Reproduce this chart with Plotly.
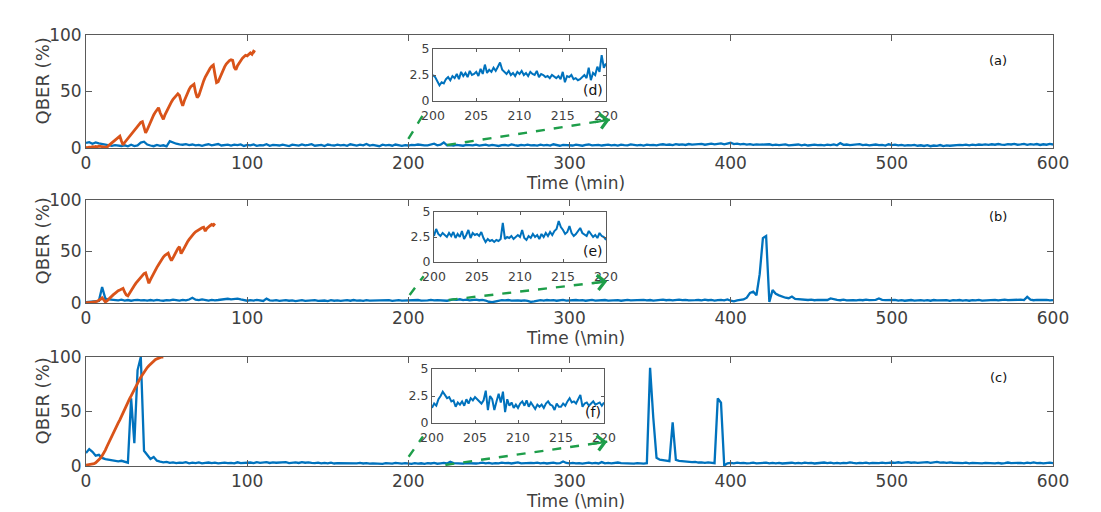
import plotly.graph_objects as go

W, H = 1101, 512

# ---------------- data ----------------
# blue QBER traces, one sample every 2 min from 0 to 600
time_main = list(range(0, 601, 2))

qber_a = [
    4.5, 5.2, 3.8, 4.9, 4.1, 3.6, 2.8, 2.2, 1.9, 2.6,
    2.1, 1.8, 2.4, 1.5, 2.9, 1.7, 2.3, 4.8, 5.6, 3.1,
    2.2, 1.6, 2.7, 1.9, 2.4, 1.4, 6.1, 4.7, 3.8, 3.2,
    2.9, 3.4, 2.6, 3.1, 2.3, 2.8, 1.9, 2.7, 3.3, 2.4,
    2.8, 3.5, 2.2, 2.6, 3.0, 2.1, 2.9, 2.5, 3.2, 1.8,
    2.7, 2.3, 3.1, 1.9, 2.6, 2.4, 3.3, 2.0, 2.8, 2.5,
    2.2, 3.0, 2.4, 1.7, 2.9, 2.6, 2.1, 3.2, 2.3, 2.7,
    3.4, 2.0, 2.6, 2.8, 1.8, 3.1, 2.5, 2.2, 3.0, 2.4,
    2.7, 1.9, 3.3, 2.5, 2.1, 2.9, 2.4, 3.6, 2.2, 2.8,
    2.5, 1.6, 2.9, 2.3, 2.7, 2.0, 3.1, 2.4, 1.9, 2.6,
    2.2, 2.7, 2.5, 3.1, 2.6, 2.4, 2.3, 3.0, 3.8, 2.4,
    2.9, 4.9, 2.3, 2.6, 2.1, 2.8, 2.4, 2.0, 2.7, 2.5,
    2.3, 2.9, 2.1, 2.6, 3.0, 2.2, 2.7, 2.4, 1.8, 2.6,
    2.8, 2.2, 3.2, 2.5, 2.0, 2.7, 2.4, 3.0, 2.3, 2.6,
    2.1, 2.9, 2.4, 2.7, 2.2, 3.3, 2.5, 2.0, 2.8, 2.4,
    2.6, 2.2, 2.9, 2.4, 2.0, 2.7, 3.1, 2.3, 2.5, 2.8,
    2.2, 2.6, 3.0, 2.4, 2.7, 2.1, 2.9, 2.5, 2.3, 3.2,
    2.6, 2.4, 2.8, 2.2, 3.0, 2.5, 2.7, 2.3, 2.9, 3.3,
    2.8, 3.1, 2.6, 3.4, 2.9, 3.2, 2.7, 3.5, 3.0, 3.3,
    3.1, 3.6, 2.9, 3.4, 3.8, 3.2, 3.5, 4.1, 3.3, 3.7,
    4.6, 3.4, 3.9, 3.2, 3.6, 3.0, 3.4, 2.8, 3.2, 2.9,
    3.1, 2.7, 3.3, 2.6, 3.0, 2.5, 2.9, 3.2, 2.4, 2.8,
    2.6, 3.1, 2.4, 2.9, 2.2, 2.7, 3.0, 2.5, 2.8, 2.3,
    2.9, 2.6, 3.2, 2.4, 4.3, 2.8, 3.1, 2.5, 2.9, 2.7,
    3.4, 2.6, 2.9, 2.3, 2.8, 3.1, 2.5, 2.7, 2.2, 3.3,
    2.6, 2.9, 2.4, 2.7, 2.1, 2.6, 2.3, 2.8, 2.0, 2.4,
    1.8, 2.5, 1.6, 2.2, 1.9, 2.6, 1.7, 2.3, 2.0, 2.4,
    2.2, 2.8, 2.5, 3.0, 2.4, 2.9, 2.6, 3.1, 2.7, 3.2,
    2.8, 3.3, 2.9, 3.5, 3.0, 2.7, 3.4, 3.1, 3.6, 2.9,
    3.2, 3.7, 2.8, 3.4, 3.0, 3.5, 2.7, 3.3, 2.9, 3.6,
    3.1,
]

qber_b = [
    0.8, 1.2, 1.9, 2.4, 2.1, 15.5, 4.2, 3.6, 3.1, 2.8,
    2.6, 3.2, 2.4, 2.9, 2.2, 2.7, 3.0, 2.5, 2.8, 2.3,
    2.9, 2.4, 3.1, 2.6, 2.2, 2.8, 2.5, 3.2, 2.7, 2.4,
    3.0, 2.6, 3.4, 5.1, 3.2, 2.8, 3.5, 2.9, 2.4, 3.1,
    2.6, 2.9, 3.3, 3.8, 4.1, 3.6, 3.9, 4.3, 3.5, 2.6,
    2.2, 2.8, 2.4, 3.1, 2.5, 2.0, 4.2, 2.6, 2.3, 2.7,
    2.1, 2.5, 2.8, 2.2, 2.6, 1.9, 2.4, 2.7, 2.0, 2.5,
    2.3, 2.8, 2.1, 2.6, 2.4, 1.8, 2.7, 2.2, 2.5, 2.0,
    2.4, 2.7, 2.2, 2.9, 2.3, 2.6, 2.1, 2.8, 2.4, 2.5,
    2.2, 2.6, 2.9, 2.3, 2.7, 2.1, 2.5, 2.8, 2.4, 2.6,
    2.7, 2.3, 2.6, 2.9, 2.4, 2.2, 2.6, 3.1, 2.5, 2.8,
    2.5, 2.9, 2.2, 2.7, 3.4, 3.0, 3.6, 2.8, 3.2, 2.6,
    2.9, 3.3, 2.7, 3.0, 2.4, 1.2, 0.8, 1.6, 2.4, 2.8,
    2.6, 2.9, 2.3, 2.7, 2.5, 2.2, 2.6, 2.0, 1.1, 1.5,
    2.3, 2.7, 2.4, 2.9, 2.5, 2.8, 2.2, 2.6, 3.0, 2.4,
    2.7, 2.3, 2.9, 2.5, 2.8, 2.2, 2.6, 3.0, 2.4, 2.7,
    2.5, 2.9, 2.3, 2.7, 2.4, 2.8, 2.2, 2.6, 3.1, 2.5,
    2.8, 2.4, 2.7, 3.0, 2.5, 2.9, 2.3, 2.7, 2.6, 3.2,
    2.7, 3.0, 2.5, 2.9, 3.3, 2.8, 3.1, 2.6, 3.0, 2.7,
    2.9, 2.5, 3.2, 2.7, 3.0, 2.4, 2.8, 3.1, 2.6, 3.4,
    2.2, 1.6, 2.5, 2.9, 3.4, 5.2, 9.8, 11.0, 7.5, 28.0,
    63.0, 65.0, 1.0, 12.5, 9.0, 7.4, 6.2, 5.1, 4.6, 6.3,
    4.0, 3.6, 3.2, 3.5, 2.9, 3.3, 2.7, 3.1, 2.8, 3.2,
    2.9, 4.5, 3.4, 3.0, 2.7, 3.2, 2.6, 3.0, 2.8, 2.5,
    3.1, 2.7, 3.3, 2.8, 2.6, 3.0, 4.4, 3.1, 2.7, 2.9,
    2.6, 3.0, 2.4, 2.8, 2.2, 2.7, 2.9, 2.3, 2.6, 2.8,
    2.4, 2.7, 2.2, 2.9, 2.5, 2.6, 2.3, 2.8, 2.1, 2.7,
    2.5, 2.9, 2.4, 2.7, 2.2, 2.8, 2.6, 3.0, 2.4, 2.7,
    2.9, 2.6, 3.1, 2.5, 2.8, 3.2, 2.7, 3.0, 2.6, 2.9,
    3.3, 2.8, 5.9, 3.2, 2.7, 3.0, 2.6, 2.9, 3.1, 2.5,
    2.8,
]

qber_c = [
    12.0, 15.5, 13.0, 9.5, 10.2, 7.4, 6.3, 5.8, 5.1, 4.6,
    4.3, 4.8, 3.6, 3.1, 62.0, 21.0, 88.0, 100.0, 14.0, 9.8,
    6.5, 8.2, 4.9, 4.1, 3.4, 3.8, 2.9, 3.3, 2.6, 3.1,
    2.8, 3.5, 2.5, 3.0, 2.7, 3.3, 2.4, 2.9, 3.2, 2.6,
    3.0, 2.5, 2.8, 3.1, 2.6, 2.9, 2.4, 3.4, 2.7, 3.0,
    2.8, 3.2, 2.6, 3.5, 2.9, 3.1, 3.6, 2.8, 3.3, 3.0,
    3.2, 2.9, 3.5, 2.7, 3.1, 3.4, 2.8, 3.6, 3.0, 3.3,
    2.9, 2.6, 3.0, 2.4, 2.8, 2.5, 3.1, 2.3, 2.7, 2.6,
    2.4, 2.9, 2.2, 2.7, 2.5, 2.8, 2.3, 2.6, 2.1, 2.5,
    2.3, 2.7, 2.0, 2.6, 2.4, 2.2, 2.8, 2.5, 2.1, 2.6,
    2.4, 1.9, 2.7, 2.2, 2.5, 2.0, 2.6, 2.3, 2.8, 2.1,
    2.5, 2.9, 2.3, 3.8, 2.6, 2.4, 2.8, 2.2, 2.7, 2.5,
    2.9, 2.3, 2.6, 3.1, 2.4, 2.8, 2.2, 2.7, 2.5, 3.0,
    2.6, 2.9, 2.3, 2.8, 3.3, 2.5, 2.7, 2.4, 2.9, 2.6,
    3.1, 2.5, 2.8, 2.3, 2.7, 3.0, 2.4, 2.6, 4.2, 2.8,
    2.5, 2.9, 2.4, 2.7, 2.2, 2.6, 3.0, 2.5, 2.8, 2.3,
    3.6, 2.4, 2.8, 2.5, 2.9, 3.2, 2.7, 2.4, 2.6, 2.3,
    2.2, 2.7, 2.5, 2.1, 2.6, 90.0, 44.0, 7.5, 5.8, 5.2,
    4.9, 4.5, 40.0, 5.6, 4.8, 4.4, 4.1, 3.9, 3.5, 3.7,
    3.2, 3.4, 2.9, 3.3, 3.0, 2.6, 62.0, 58.0, 0.5, 2.4,
    2.8, 2.5, 3.0, 2.6, 2.9, 2.4, 2.7, 3.1, 2.5, 2.8,
    2.6, 3.0, 2.4, 2.8, 2.5, 2.9, 2.3, 2.7, 2.6, 3.0,
    2.4, 2.8, 2.5, 3.1, 2.6, 2.9, 2.3, 2.7, 2.5, 3.2,
    2.7, 3.0, 2.5, 2.8, 2.4, 2.9, 2.6, 3.3, 2.8, 2.5,
    2.9, 2.6, 3.0, 2.4, 2.8, 2.5, 2.7, 3.1, 2.6, 2.9,
    3.2, 2.8, 3.4, 2.9, 3.1, 3.6, 3.0, 3.3, 2.8, 3.2,
    3.0, 3.5, 2.9, 3.2, 3.7, 3.1, 3.4, 2.9, 3.3, 3.0,
    2.8, 3.2, 2.6, 3.0, 2.5, 2.9, 2.7, 3.1, 2.4, 2.8,
    2.6, 3.0, 2.5, 2.9, 2.3, 2.7, 3.2, 2.6, 2.8, 2.4,
    2.9, 2.5, 3.1, 2.7, 3.3, 2.6, 2.9, 2.4, 2.8, 3.0,
    2.6,
]

# orange QBER traces, one sample per minute
time_orange_a = list(range(0, 106))
orange_a = [
    0.5, 0.3, 0.8, 0.6, 1.2, 0.9, 1.4, 1.1, 1.6, 1.3,
    1.0, 0.7, 0.4, 0.6, 2.1, 3.4, 4.2, 5.8, 6.9, 8.2,
    9.1, 10.4, 6.2, 2.8, 4.9, 6.7, 8.3, 10.1, 11.8, 13.6,
    15.2, 17.4, 19.1, 20.8, 22.6, 23.3, 17.5, 13.4, 16.2, 19.8,
    23.1, 26.4, 29.2, 31.7, 34.1, 35.6, 31.2, 27.8, 25.3, 29.4,
    32.6, 35.9, 38.4, 40.8, 43.1, 45.2, 46.3, 47.9, 46.5, 41.2,
    37.4, 41.8, 45.6, 48.7, 51.9, 54.2, 55.8, 56.4, 49.1, 44.6,
    46.3, 51.2, 55.7, 59.4, 62.8, 65.9, 68.3, 70.6, 72.4, 73.5,
    65.2, 57.8, 58.6, 62.3, 66.1, 69.4, 71.8, 74.2, 75.9, 77.3,
    78.1, 77.6, 71.4, 69.2, 72.8, 75.3, 77.6, 79.4, 80.8, 82.1,
    81.6, 83.4, 84.2, 82.9, 85.6, 84.8,
]

time_orange_b = list(range(0, 81))
orange_b = [
    0.4, 0.2, 0.6, 0.5, 0.9, 0.8, 1.3, 1.7, 2.4, 3.6,
    5.1, 3.2, 1.0, 2.1, 3.8, 5.2, 6.7, 8.1, 9.4, 10.8,
    11.9, 12.6, 13.8, 14.2, 10.5, 7.8, 6.9, 9.8, 12.4, 14.6,
    16.9, 19.3, 21.2, 23.4, 25.8, 27.4, 28.6, 29.3, 24.1, 19.2,
    22.6, 25.9, 28.7, 31.8, 34.6, 37.2, 39.9, 42.1, 44.6, 46.3,
    47.8, 48.4, 44.2, 41.1, 43.9, 47.2, 50.4, 52.8, 54.6, 47.9,
    50.6, 53.9, 56.8, 59.4, 61.7, 63.9, 65.8, 67.6, 69.1, 70.2,
    71.4, 72.3, 73.1, 73.6, 69.8, 72.4, 74.2, 75.1, 76.3, 75.4,
    77.2,
]

time_orange_c = list(range(0, 49))
orange_c = [
    0.8, 1.1, 0.9, 1.6, 1.4, 2.2, 2.9, 4.1, 5.6, 7.3,
    9.4, 11.8, 14.6, 17.9, 21.2, 24.3, 27.1, 30.4, 33.2, 36.8,
    39.5, 42.3, 45.8, 48.9, 52.1, 55.4, 58.2, 61.6, 64.3, 67.5,
    70.2, 73.4, 76.1, 78.8, 81.5, 83.9, 86.2, 88.1, 90.3, 92.0,
    93.6, 95.1, 96.4, 97.5, 98.3, 99.1, 99.6, 100.0, 100.0,
]

# zoomed insets, 200-220 min every 0.25 min
time_zoom = [200 + 0.25 * i for i in range(81)]
zoom_d = [
    2.5, 2.3, 1.9, 1.5, 1.8, 1.7, 2.1, 2.3, 2.0, 2.4,
    2.2, 2.6, 2.1, 2.8, 2.4, 2.7, 2.3, 2.9, 2.5, 2.6,
    2.8, 2.4, 3.1, 2.6, 3.5, 2.7, 3.0, 2.8, 3.2, 2.9,
    3.3, 3.7, 3.0, 2.8, 2.6, 2.9, 2.5, 2.7, 2.4, 2.8,
    2.6, 2.9, 2.5, 2.7, 2.4, 2.8, 2.6, 2.5, 2.9, 2.3,
    2.6, 2.5, 2.3, 2.4, 2.2, 2.5, 2.3, 2.2, 2.4, 2.1,
    2.8, 1.8, 2.4, 2.3, 2.5, 2.1, 2.2, 2.0, 2.1, 2.3,
    2.5, 2.2, 3.2, 2.0, 2.7, 2.5, 3.3, 2.8, 4.4, 3.2,
    3.6,
]
zoom_e = [
    2.6, 3.3, 2.8, 2.6, 2.9, 2.7, 2.5, 2.9, 2.6, 3.0,
    2.4, 2.8, 2.5, 3.1, 2.3, 2.7, 3.2, 2.4, 2.9, 2.7,
    2.8, 2.6, 3.0, 2.4, 2.0, 2.3, 2.1, 2.2, 2.0, 2.2,
    2.1, 2.3, 3.9, 2.3, 2.5, 2.4, 2.6, 2.3, 2.5, 2.7,
    2.5, 3.2, 2.4, 2.2, 2.6, 2.4, 2.8, 2.5, 2.7, 2.3,
    2.8, 2.5, 2.9, 2.6, 3.0, 2.7, 3.1, 3.3, 4.1, 3.5,
    3.2, 2.8, 3.0, 3.6, 2.9, 2.6, 2.8, 3.1, 3.4, 2.9,
    2.7, 2.6, 3.1, 2.8, 2.5, 2.7, 2.4, 2.9, 2.6, 2.5,
    2.2,
]
zoom_f = [
    1.4, 1.8, 1.6, 2.2, 2.5, 2.9, 2.6, 2.3, 2.4, 2.0,
    2.1, 1.5, 1.9, 1.7, 2.0, 1.6, 2.2, 1.8, 2.3, 2.1,
    2.4, 2.2, 2.0, 1.8, 2.1, 3.0, 1.2, 2.5, 2.2, 1.2,
    2.0, 2.7, 1.9, 2.9, 1.0, 2.2, 1.6, 1.9, 1.4, 1.7,
    1.4, 1.8, 2.0, 1.6, 2.1, 1.5, 1.9, 1.6, 1.3, 1.7,
    1.5, 1.7, 1.4, 1.8, 2.0, 1.7, 1.6, 1.2, 1.8, 1.5,
    1.5, 1.8, 1.6, 2.0, 2.3, 1.9, 2.0, 1.8, 2.2, 2.6,
    1.5, 1.8, 1.9, 1.6, 1.8, 2.0, 1.7, 1.8, 1.9, 1.6,
    1.9,
]

panel_labels = ["(a)", "(b)", "(c)"]
zoom_labels = ["(d)", "(e)", "(f)"]
main_ticks = [0, 100, 200, 300, 400, 500, 600]
zoom_xticks = [200, 205, 210, 215, 220]
zoom_yticks = [0, 2.5, 5]

# ---------------- styling / layout ----------------
BLUE = "#0072BD"
ORANGE = "#D95319"
GREEN = "#1E9E4A"
AXIS = "#5a5a5a"
TEXT = "#404040"
FONT = "DejaVu Sans"


def px(x):
    return x / W


def py(y):
    return 1 - y / H


# pixel boxes (left, right, top, bottom) of the main axes and insets
main_boxes = [(86, 1053, 35, 148), (86, 1053, 200, 303), (86, 1053, 357, 466)]
zoom_boxes = [(433, 606, 49, 101), (434, 606, 212, 262), (432, 604, 369, 423)]
label_y = [60, 216, 377]

# dashed arrows in main-axis data units: (x0, y0, x1, y1)
arrows = [
    [(200, 8, 209, 29), (224, 2.6, 325, 25)],
    [(200.8, 7.8, 209.5, 26), (225, 3, 323.4, 21)],
    [(200.2, 8.5, 209.1, 27), (223, 1, 323.4, 22.3)],
]

blue_series = [qber_a, qber_b, qber_c]
orange_series = [(time_orange_a, orange_a), (time_orange_b, orange_b), (time_orange_c, orange_c)]
zoom_series = [zoom_d, zoom_e, zoom_f]

fig = go.Figure()
layout = dict(
    width=W, height=H,
    margin=dict(l=0, r=0, t=0, b=0, pad=0, autoexpand=False),
    paper_bgcolor="white", plot_bgcolor="white",
    showlegend=False,
    font=dict(family=FONT, color=TEXT),
)
annotations = []

axis_common = dict(
    showline=True, linecolor=AXIS, linewidth=1, mirror="ticks",
    ticks="inside", tickcolor=AXIS, showgrid=False, zeroline=False,
    automargin=False,
)


def label(x, y, text, size, angle=0, color=TEXT):
    return dict(x=px(x), y=py(y), xref="paper", yref="paper", text=text,
                xanchor="center", yanchor="middle", textangle=angle,
                showarrow=False, font=dict(size=size, color=color))


for i in range(3):
    n = i + 1
    xa, ya = f"x{n}", f"y{n}"
    l, r, t, b = main_boxes[i]
    layout[f"xaxis{n}"] = dict(
        axis_common, domain=[px(l), px(r)], anchor=ya, range=[0, 600],
        tickvals=main_ticks, ticklen=6, tickfont=dict(size=17, color=TEXT),
        ticklabelstandoff=0,
    )
    layout[f"yaxis{n}"] = dict(
        axis_common, domain=[py(b), py(t)], anchor=xa, range=[0, 100],
        tickvals=[0, 50, 100], ticklen=6, tickfont=dict(size=17, color=TEXT),
    )

    fig.add_trace(go.Scatter(x=time_main, y=blue_series[i], mode="lines",
                             line=dict(color=BLUE, width=2.3), xaxis=xa, yaxis=ya))
    tx, ty = orange_series[i]
    fig.add_trace(go.Scatter(x=tx, y=ty, mode="lines",
                             line=dict(color=ORANGE, width=2.8), xaxis=xa, yaxis=ya))

    # green dashed arrows pointing to the inset
    for x0, y0, x1, y1 in arrows[i]:
        fig.add_trace(go.Scatter(x=[x0, x1], y=[y0, y1], mode="lines",
                                 line=dict(color=GREEN, width=2.4, dash="dash"),
                                 xaxis=xa, yaxis=ya))
        annotations.append(dict(
            x=x1, y=y1, ax=x1 - 0.1 * (x1 - x0), ay=y1 - 0.1 * (y1 - y0),
            xref=xa, yref=ya, axref=xa, ayref=ya, text="", showarrow=True,
            arrowhead=4, arrowsize=1.3, arrowwidth=2.2, arrowcolor=GREEN,
        ))

    # inset axes
    m = i + 4
    zx, zy = f"x{m}", f"y{m}"
    l, r, t, b = zoom_boxes[i]
    layout[f"xaxis{m}"] = dict(
        axis_common, domain=[px(l), px(r)], anchor=zy, range=[200, 220],
        tickvals=zoom_xticks, ticklen=3, tickfont=dict(size=12.5, color=TEXT),
        ticklabelstandoff=3,
    )
    layout[f"yaxis{m}"] = dict(
        axis_common, domain=[py(b), py(t)], anchor=zx, range=[0, 5],
        tickvals=zoom_yticks, ticktext=["0", "2.5", "5"], ticklen=3,
        tickfont=dict(size=12.5, color=TEXT),
    )
    fig.add_trace(go.Scatter(x=time_zoom, y=zoom_series[i], mode="lines",
                             line=dict(color=BLUE, width=2), xaxis=zx, yaxis=zy))

    annotations.append(dict(x=px(r) - 0.001, y=py(b) + 0.002, xref="paper", yref="paper",
                            xanchor="right", yanchor="bottom", text=zoom_labels[i],
                            showarrow=False, font=dict(size=14, color="#111")))
    annotations.append(label(998, label_y[i], panel_labels[i], 13, color="#111"))

    # axis titles
    mt, mb = main_boxes[i][2], main_boxes[i][3]
    annotations.append(label(42, (mt + mb) / 2 - 10, "QBER (%)", 18, angle=-90))
    annotations.append(label(575, mb + 35, "Time (\\min)", 17))

layout["annotations"] = annotations
fig.update_layout(**layout)
# drop the page's default body margin so the figure sits at the window corner
fig.write_html("out.html", config={"displayModeBar": False},
               post_script="document.body.style.margin='0';")
